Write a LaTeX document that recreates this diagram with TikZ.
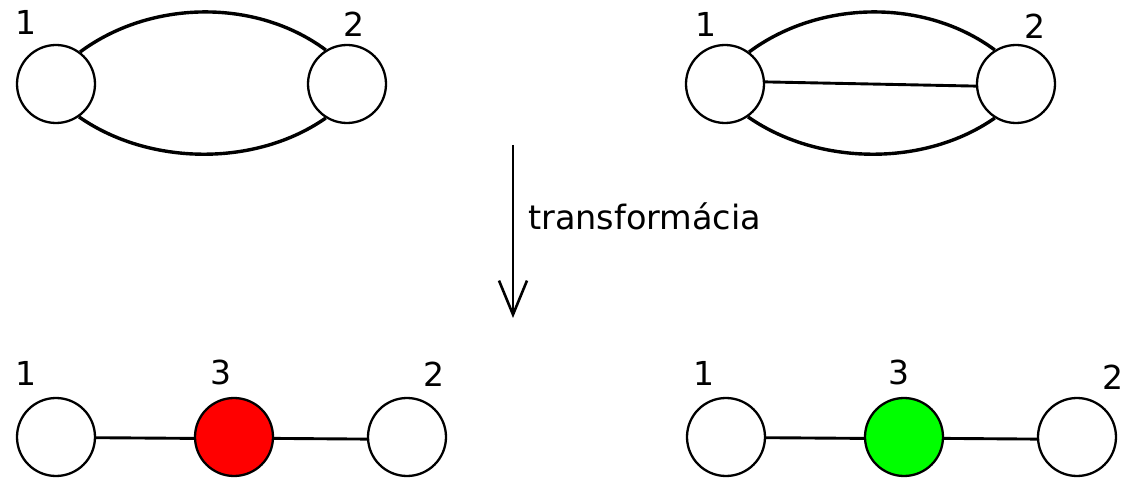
\documentclass[tikz,border=0pt]{standalone}
\usepackage{fontspec}
\setmainfont{DejaVu Sans}
\usetikzlibrary{arrows.meta}
\definecolor{nodered}{RGB}{255,0,0}
\definecolor{nodegreen}{RGB}{0,255,0}
\begin{document}
\begin{tikzpicture}[x=1pt,y=-1pt,
  vert/.style={circle,draw=black,line width=2.3pt,fill=white,minimum size=78pt,inner sep=0pt},
  lbl/.style={inner sep=0pt,font=\fontsize{33}{38}\selectfont},
  arcedge/.style={line width=3.4pt},
  edge/.style={line width=2.9pt},
  txt/.style={inner sep=0pt,font=\fontsize{33.5}{38}\selectfont}]
\useasboundingbox (0,0) rectangle (1128,481);
% top-left graph
\node[vert] (a1) at (56,84) {};
\node[vert] (a2) at (347,84) {};
\node[lbl] (la1) at (26,22) {1};
\node[lbl] (la2) at (354,24) {2};
\draw[arcedge] (a1.53) .. controls +(70,-52) and +(-70,-52) .. (a2.122);
\draw[arcedge] (a1.-55) .. controls +(70,49) and +(-70,49) .. (a2.-122);
% top-right graph
\node[vert] (b1) at (725,84) {};
\node[vert] (b2) at (1016,84) {};
\node[lbl] (lb1) at (706,24) {1};
\node[lbl] (lb2) at (1035,26) {2};
\draw[arcedge] (b1.53) .. controls +(70,-52) and +(-70,-52) .. (b2.122);
\draw[arcedge] (b1.-55) .. controls +(70,49) and +(-70,49) .. (b2.-122);
\draw[edge] (b1.3) -- (b2.183);
% arrow
\coordinate (arrS) at (513,145);
\coordinate (arrE) at (513,318);
\draw[line width=2.6pt,-{Straight Barb[length=34pt,width=28pt,line width=2.6pt]}] (arrS) -- (arrE);
\node[txt,anchor=base west] (tr) at (528,230) {transformácia};
% bottom-left graph
\node[vert] (d1) at (56,437) {};
\node[vert,fill=nodered] (d3) at (234,437) {};
\node[vert] (d2) at (407,437) {};
\node[lbl] (ld1) at (26,373) {1};
\node[lbl] (ld3) at (221,372) {3};
\node[lbl] (ld2) at (434,374) {2};
\draw[edge] (d1.-1) -- (d3.182);
\draw[edge] (d3.-2) -- (d2.183);
% bottom-right graph
\node[vert] (e1) at (726,437) {};
\node[vert,fill=nodegreen] (e3) at (904,437) {};
\node[vert] (e2) at (1077,437) {};
\node[lbl] (le1) at (704,373) {1};
\node[lbl] (le3) at (899,372) {3};
\node[lbl] (le2) at (1113,377) {2};
\draw[edge] (e1.-1) -- (e3.182);
\draw[edge] (e3.-2) -- (e2.183);
\end{tikzpicture}
\end{document}
